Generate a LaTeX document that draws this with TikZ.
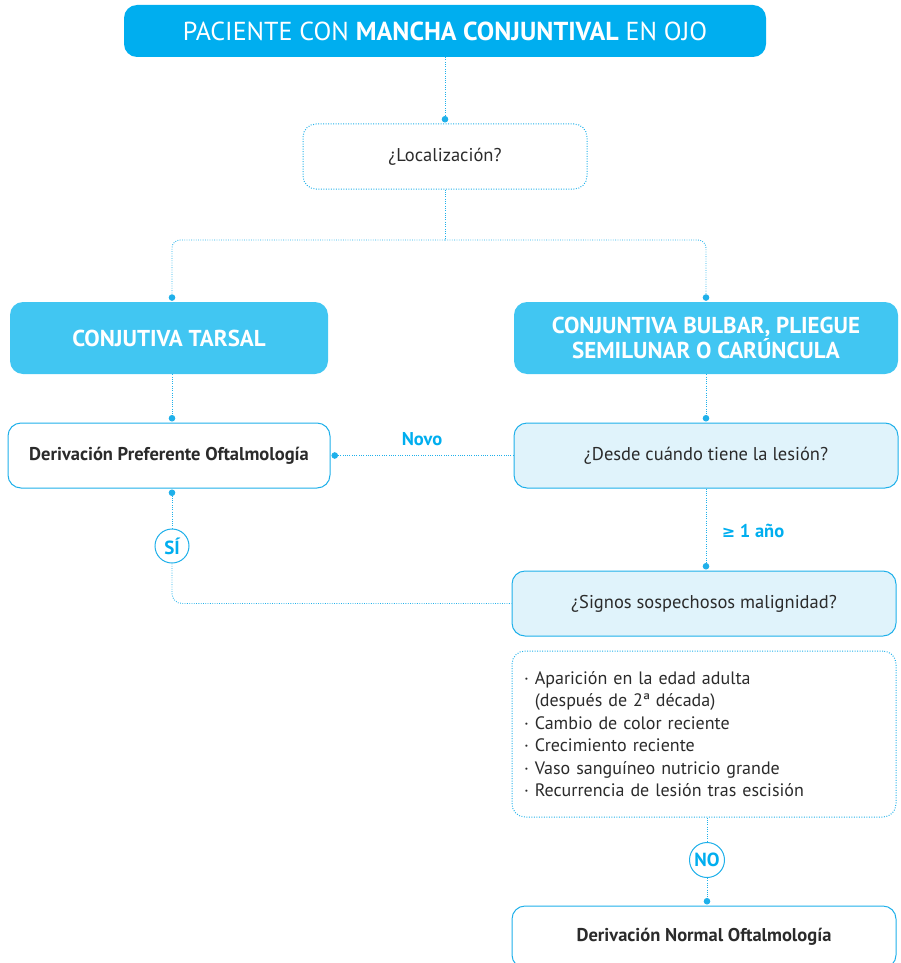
\documentclass[tikz,border=0pt]{standalone}
\usepackage{fontspec}
\setmainfont{PT Sans}
\newfontfamily\symfont{DejaVu Sans}
\usetikzlibrary{arrows.meta}
\definecolor{cyanA}{HTML}{00AEEF}
\definecolor{cyanB}{HTML}{41C6F2}
\definecolor{paleB}{HTML}{E0F3FB}
\definecolor{lineC}{HTML}{1FB0EA}
\definecolor{txt}{HTML}{2B2B2B}
\newcommand{\fs}[1]{\fontsize{#1}{#1}\selectfont}
\begin{document}
\begin{tikzpicture}[x=1pt,y=-1pt,
  box/.style={rounded corners=13pt, inner sep=0pt, align=center, text=txt, font=\fs{18.5}},
  headbox/.style={box, fill=cyanB, text=white, font=\bfseries\fs{23}},
  solidbox/.style={box, draw=lineC, line width=1pt},
  palebox/.style={solidbox, fill=paleB},
  dotbox/.style={box, draw=lineC, line width=1pt, dash pattern=on 0.9pt off 1.6pt},
  link/.style={draw=lineC, line width=0.9pt, dash pattern=on 0.8pt off 1.5pt},
  dot/.tip={Circle[length=6.5pt]},
  answer/.style={circle, draw=lineC, line width=1pt, fill=white, inner sep=0pt,
    minimum size=32pt, text=cyanA, font=\bfseries\fs{19}},
  tag/.style={text=cyanA, font=\bfseries\fs{18.5}}
]
\useasboundingbox (0,0) rectangle (900,963);

% boxes
\node[box, fill=cyanA, text=white, font=\fs{26}, minimum width=642pt, minimum height=52pt]
  (title) at (445,31) {PACIENTE CON \textbf{MANCHA CONJUNTIVAL} EN OJO};
\node[dotbox, minimum width=284pt, minimum height=65pt] (loc) at (445,156.5) {¿Localización?};
\node[headbox, minimum width=318pt, minimum height=72pt] (tarsal) at (169,338) {CONJUTIVA TARSAL};
\node[headbox, minimum width=384pt, minimum height=72pt, font=\bfseries\fontsize{23}{25}\selectfont]
  (bulbar) at (706,338) {CONJUNTIVA BULBAR, PLIEGUE\\SEMILUNAR O CARÚNCULA};
\node[solidbox, fill=white, font=\bfseries\fs{18.5}, minimum width=322pt, minimum height=65pt]
  (pref) at (169,455.5) {Derivación Preferente Oftalmología};
\node[palebox, minimum width=384pt, minimum height=65pt] (desde) at (706,455.5) {¿Desde cuándo tiene la lesión?};
\node[palebox, minimum width=384pt, minimum height=65pt] (signos) at (704,603.5) {¿Signos sospechosos malignidad?};
\node[dotbox, minimum width=384pt, minimum height=166pt, text width=360pt, align=left,
  font=\fontsize{18}{22.5}\selectfont] (crit) at (704,734)
  {· Aparición en la edad adulta\\
   \hphantom{· }(después de 2ª década)\\
   · Cambio de color reciente\\
   · Crecimiento reciente\\
   · Vaso sanguíneo nutricio grande\\
   · Recurrencia de lesión tras escisión};
\node[solidbox, fill=white, font=\bfseries\fs{18.5}, minimum width=384pt, minimum height=62pt]
  (normal) at (704,937) {Derivación Normal Oftalmología};
\node[answer, minimum height=34pt] (si) at (172,546) {SÍ};
\node[answer, minimum size=35pt] (no) at (707,860) {NO};

% connectors
\coordinate (split) at (445,240);
\draw[link, -dot, shorten >=1pt] (title.south) -- (loc.north);
\draw[link] (loc.south) -- (split);
\draw[link, -dot, shorten >=1pt, rounded corners=8pt] (split) -| (si.north |- tarsal.north);
\draw[link, -dot, shorten >=1pt, rounded corners=8pt] (split) -| (bulbar.north);
\draw[link, -dot, shorten >=1pt] (si.north |- tarsal.south) -- (si.north |- pref.north);
\draw[link, -dot, shorten >=1pt] (bulbar.south) -- (desde.north);
\draw[link, -dot, shorten >=1pt] (desde.west) -- (pref.east)
  node[tag, pos=0.5, above=6pt] {Novo};
\draw[link, dot-, shorten <=1pt] (si.north |- pref.south) -- (si.north);
\draw[link, rounded corners=10pt] (si.south) |- (signos.west);
\draw[link, -dot, shorten >=1pt] (desde.south) -- (desde.south |- signos.north)
  node[tag, pos=0.52, right=12pt] {{\symfont\bfseries\fs{16}≥} 1 año};
\draw[link] (no.north |- crit.south) -- (no.north);
\draw[link, -dot, shorten >=1pt] (no.south) -- (no.south |- normal.north);
\end{tikzpicture}
\end{document}
